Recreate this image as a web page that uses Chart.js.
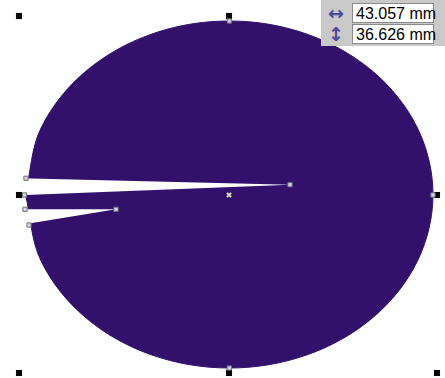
<!DOCTYPE html>
<html>
<head>
<meta charset="utf-8">
<script src="https://cdn.jsdelivr.net/npm/chart.js@4"></script>
<style>
  html, body { margin: 0; padding: 0; background: #fff; }
  #wrap { position: relative; width: 445px; height: 378px; }
  #panel {
    position: absolute; left: 321px; top: 0; width: 124px; height: 46px;
    background: #c9c9c9; font-family: "Liberation Sans", Arial, sans-serif;
  }
  .row { position: absolute; left: 0; width: 124px; height: 21px; }
  .ico { position: absolute; left: 2px; width: 26px; text-align: center; color: #4b4a9c;
         font-family: "DejaVu Sans", sans-serif; font-size: 19px; line-height: 21px; font-weight: bold; }
  .box {
    position: absolute; left: 31px; width: 82px; height: 20px; background: #fff;
    border: 1px solid #8a8a8a; box-sizing: border-box; font-size: 16px; line-height: 19px;
    padding-left: 3px; color: #000; white-space: nowrap;
  }
</style>
</head>
<body>
<div id="wrap">
  <canvas id="myChart" width="445" height="378"></canvas>
  <div id="panel">
    <div class="row" style="top:3px"><span class="ico">&#8596;</span><div class="box">43.057 mm</div></div>
    <div class="row" style="top:24px"><span class="ico">&#8597;</span><div class="box">36.626 mm</div></div>
  </div>
</div>
<script>
// outline of the ellipse (pixels)
var ellipseX = [25.5, 41.0, 85.2, 151.3, 229.3, 307.2, 373.3, 417.5, 433.0, 417.5, 373.3, 307.2, 229.3, 151.3, 85.2, 41.0, 25.5];
var ellipseY = [194.5, 128.1, 71.8, 34.2, 21.0, 34.2, 71.8, 128.1, 194.5, 260.9, 317.2, 354.8, 368.0, 354.8, 317.2, 260.9, 194.5];

// the two cuts on the left side
var cut1X = [-5, 290, -5, -5];
var cut1Y = [177.55, 184.7, 196.1, 177.55];
var cut2X = [-5, 116, -5, -5];
var cut2Y = [209.3, 209.3, 229.1, 209.3];

// nodes of the curve
var nodeX = [229.3, 433, 229.3, 26, 290, 24.5, 25, 116, 29];
var nodeY = [21, 195, 368, 178.3, 184.7, 195, 209.3, 209.3, 225];

// selection handles
var handleX = [19, 229, 437, 19, 437, 19, 229, 437];
var handleY = [16, 16, 16, 195, 195, 373, 373, 373];

var centerX = [229];
var centerY = [195];

function pts(xs, ys) {
    return xs.map(function(x, i) { return {x: x, y: ys[i]}; });
}

var purple = "#33106c";

var ctx = document.getElementById('myChart').getContext('2d');
var myChart = new Chart(ctx, {
    type: 'scatter',
    data: {
        datasets: [
            {
                data: pts(centerX, centerY),
                pointStyle: 'crossRot',
                pointRadius: 3,
                borderColor: '#e4e6b0',
                borderWidth: 2,
                order: 0
            },
            {
                data: pts(nodeX, nodeY),
                pointStyle: 'rect',
                pointRadius: 3,
                backgroundColor: '#d6d3e2',
                borderColor: '#6f6f78',
                borderWidth: 1,
                order: 1
            },
            {
                data: pts(handleX, handleY),
                pointStyle: 'rect',
                pointRadius: 4.3,
                backgroundColor: '#000',
                borderColor: '#000',
                borderWidth: 0,
                order: 2
            },
            {
                data: pts(cut1X, cut1Y),
                showLine: true,
                fill: 'shape',
                tension: 0,
                pointRadius: 0,
                borderWidth: 0,
                backgroundColor: '#ffffff',
                order: 3
            },
            {
                data: pts(cut2X, cut2Y),
                showLine: true,
                fill: 'shape',
                tension: 0,
                pointRadius: 0,
                borderWidth: 0,
                backgroundColor: '#ffffff',
                order: 3
            },
            {
                data: pts(ellipseX, ellipseY),
                showLine: true,
                fill: 'shape',
                tension: 0.343,
                pointRadius: 0,
                borderWidth: 1,
                borderColor: purple,
                backgroundColor: purple,
                order: 5
            }
        ]
    },
    options: {
        responsive: false,
        animation: false,
        events: [],
        layout: { padding: 0, autoPadding: false },
        scales: {
            x: { type: 'linear', min: 0, max: 445, display: false },
            y: { type: 'linear', min: 0, max: 378, reverse: true, display: false }
        },
        plugins: {
            legend: { display: false },
            tooltip: { enabled: false }
        }
    }
});
</script>
</body>
</html>
